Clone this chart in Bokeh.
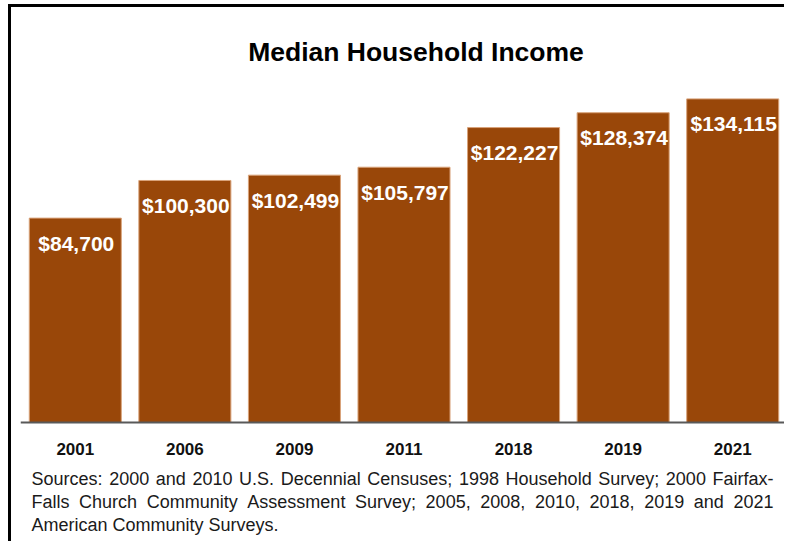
from bokeh.plotting import figure
from bokeh.models import Range1d, FactorRange, ColumnDataSource, Label, LabelSet, Span
from bokeh.embed import file_html
from bokeh.resources import INLINE
from bokeh.core.properties import value

# ---- data ----
years = ["2001", "2006", "2009", "2011", "2018", "2019", "2021"]
incomes = [84700, 100300, 102499, 105797, 122227, 128374, 134115]
value_labels = ["$" + f"{v:,}" for v in incomes]
title_text = "Median Household Income"
source_lines = [
    "Sources: 2000 and 2010 U.S. Decennial Censuses; 1998 Household Survey; 2000 Fairfax-",
    "Falls Church Community Assessment Survey; 2005, 2008, 2010, 2018, 2019 and 2021",
    "American Community Surveys.",
]

BAR_COLOR = "#994709"
PX_PER_UNIT = 0.002413   # vertical scale: pixels per dollar

# frame: 767 px wide, 537 px tall, baseline 122 px above the bottom
p = figure(
    x_range=FactorRange(*years, range_padding=0),
    y_range=Range1d(-122 / PX_PER_UNIT, 415 / PX_PER_UNIT),
    width=776, height=537,
    output_backend="svg", toolbar_location=None,
    x_axis_location=None, y_axis_location=None,
    min_border_left=9, min_border_right=0,
    min_border_top=0, min_border_bottom=0,
)
p.styles = {"margin-left": "8px", "margin-top": "4px",
            "border-left": "3px solid #000", "border-top": "3px solid #000"}
p.outline_line_color = None
p.xgrid.grid_line_color = None
p.ygrid.grid_line_color = None
p.background_fill_color = "white"
p.border_fill_color = "white"

src = ColumnDataSource(dict(year=years, income=incomes, label=value_labels,
                            base=[0] * len(years)))
p.vbar(x="year", top="income", bottom="base", width=0.84, source=src,
       fill_color=BAR_COLOR, line_color="#D9A37A", line_width=1)
p.text(x="year", y="income", text="label", source=src,
       text_align="center", text_baseline="alphabetic", y_offset=25, x_offset=1,
       text_color="white", text_font=value("Liberation Sans"),
       text_font_style="bold", text_font_size="21px")

# category axis: baseline line + category labels placed by the categorical scale
p.add_layout(Span(location=0, dimension="width", line_color="#595959", line_width=2))
p.text(x="year", y="base", text="year", source=src,
       text_align="center", text_baseline="alphabetic", y_offset=26,
       text_color="#111111", text_font=value("Liberation Sans"),
       text_font_style="bold", text_font_size="17px")

# title
p.add_layout(Label(x=395.5, y=493, x_units="screen", y_units="screen",
                   text=title_text, text_align="center", text_baseline="alphabetic",
                   text_font="Liberation Sans", text_font_style="bold",
                   text_font_size="26.5px", text_color="#000000"))

# source note: justified lines 1-2 (Arial/Liberation Sans metrics), line 3 left
W = {" ": 278, ",": 278, "-": 333, ".": 278, ":": 278, ";": 278,
     "A": 667, "C": 722, "D": 722, "F": 611, "H": 722, "S": 667, "U": 722,
     "a": 556, "c": 500, "d": 556, "e": 556, "f": 278, "h": 556, "i": 222,
     "l": 222, "m": 833, "n": 556, "o": 556, "r": 333, "s": 500, "t": 278,
     "u": 556, "v": 500, "x": 500, "y": 500}
for dgt in "0123456789":
    W[dgt] = 556
FS = 18
def tw(s):
    return sum(W.get(c, 556) for c in s) / 1000.0 * FS

left, right = 11, 753
line_y = [60, 37, 14]
wx, wy, wt = [], [], []
for li, line in enumerate(source_lines[:2]):
    words = line.split(" ")
    total = sum(tw(w) for w in words)
    gap = (right - left - total) / (len(words) - 1)
    xx = left
    for w in words:
        wx.append(xx); wy.append(line_y[li]); wt.append(w)
        xx += tw(w) + gap
wx.append(left); wy.append(line_y[2]); wt.append(source_lines[2])
ws = ColumnDataSource(dict(x=wx, y=wy, t=wt))
p.add_layout(LabelSet(x="x", y="y", text="t", source=ws,
                      x_units="screen", y_units="screen",
                      text_align="left", text_baseline="alphabetic",
                      text_font=value("Liberation Sans"), text_font_size="18px",
                      text_color="#1a1a1a"))

open("out.html", "w").write(file_html(p, INLINE))
